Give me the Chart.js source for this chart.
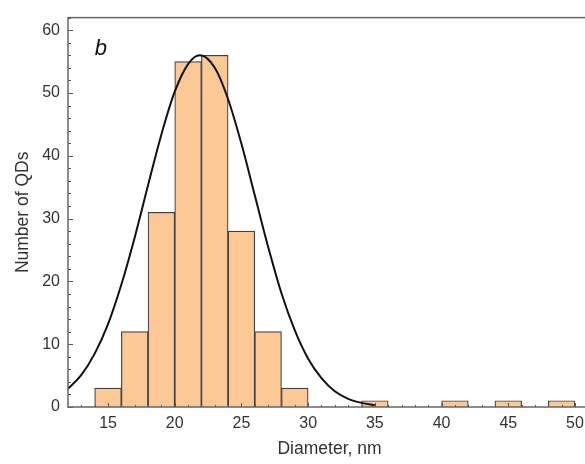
<!DOCTYPE html>
<html>
<head>
<meta charset="utf-8">
<script src="https://cdn.jsdelivr.net/npm/chart.js@4/dist/chart.umd.min.js"></script>
<style>
html,body{margin:0;padding:0;overflow:hidden;background:#fff;width:585px;height:464px;}
canvas{display:block;}
</style>
</head>
<body>
<canvas id="c" width="591" height="464"></canvas>
<script>
// Histogram bins (centers of 2 nm bins) and counts
const binCenters = [15, 17, 19, 21, 23, 25, 27, 29, 35, 41, 45, 49];
const binCounts  = [3, 12, 31, 55, 56, 28, 12, 3, 1, 1, 1, 1];
// Fitted curve
const curveX = [12, 13, 14, 15, 16, 17, 18, 19, 20, 21, 21.9, 23, 24, 25, 26, 27, 28, 29, 30, 31, 32, 33, 34, 35];
const curveY = [2.9, 5.1, 8.5, 13.2, 19.5, 27.0, 35.3, 43.4, 50.2, 54.6, 56.0, 54.0, 49.0, 41.9, 33.7, 25.5, 18.1, 12.2, 7.7, 4.6, 2.5, 1.3, 0.66, 0.3];
const xTicks = [15, 20, 25, 30, 35, 40, 45, 50];
const yTicks = [0, 10, 20, 30, 40, 50, 60];
const panelLabel = 'b';

const FONT = "'Liberation Sans', Arial, sans-serif";

const innerTicks = {
  id: 'innerTicks',
  afterDatasetsDraw(chart) {
    const {ctx, chartArea: a, scales: {x, y}} = chart;
    ctx.save();
    ctx.strokeStyle = '#555';
    ctx.lineWidth = 1;
    for (let v = 0; v <= 62; v += 2) {
      const py = Math.round(y.getPixelForValue(v)) + 0.5;
      const len = (v % 10 === 0) ? 5 : 3;
      ctx.beginPath(); ctx.moveTo(a.left, py); ctx.lineTo(a.left + len, py); ctx.stroke();
    }
    for (let v = 13; v <= 51; v += 1) {
      const px = Math.round(x.getPixelForValue(v)) + 0.5;
      const len = (v % 5 === 0) ? 4 : 2;
      ctx.beginPath(); ctx.moveTo(px, a.bottom); ctx.lineTo(px, a.bottom - len); ctx.stroke();
    }
    ctx.strokeStyle = '#666';
    ctx.lineWidth = 1.5;
    ctx.strokeRect(a.left, a.top, a.right - a.left, a.bottom - a.top);
    ctx.fillStyle = '#111';
    ctx.font = "italic 22px " + FONT;
    ctx.textBaseline = 'alphabetic';
    ctx.fillText(panelLabel, x.getPixelForValue(14.0), y.getPixelForValue(56.0));
    ctx.restore();
  }
};

new Chart(document.getElementById('c'), {
  type: 'bar',
  data: {
    datasets: [
      {
        type: 'line',
        data: curveX.map((v, i) => ({x: v, y: curveY[i]})),
        borderColor: '#111',
        borderWidth: 2,
        pointRadius: 0,
        cubicInterpolationMode: 'monotone',
        fill: false,
        order: 0
      },
      {
        type: 'bar',
        data: binCenters.map((v, i) => ({x: v, y: binCounts[i]})),
        backgroundColor: 'rgb(251,200,150)',
        borderColor: '#404040',
        borderWidth: 1.2,
        barPercentage: 1,
        categoryPercentage: 1,
        order: 1
      }
    ]
  },
  options: {
    responsive: false,
    animation: false,
    devicePixelRatio: 1,
    layout: {padding: {top: 17, right: 0, left: 0, bottom: 0}},
    plugins: {legend: {display: false}, tooltip: {enabled: false}},
    scales: {
      x: {
        type: 'linear',
        min: 12, max: 51.2,
        offset: false,
        afterBuildTicks: s => { s.ticks = xTicks.map(v => ({value: v})); },
        afterFit: s => { s.height = 57; },
        grid: {display: false, drawTicks: false},
        border: {display: false},
        ticks: {color: '#333', font: {family: FONT, size: 16}, padding: 7, maxRotation: 0, autoSkip: false},
        title: {display: true, text: 'Diameter, nm', color: '#333', font: {family: FONT, size: 17.5}, padding: {top: 0, bottom: 4}}
      },
      y: {
        type: 'linear',
        min: 0, max: 62,
        afterBuildTicks: s => { s.ticks = yTicks.map(v => ({value: v})); },
        afterFit: s => { s.width = 68; },
        grid: {display: false, drawTicks: false},
        border: {display: false},
        ticks: {color: '#333', font: {family: FONT, size: 16}, padding: 8},
        title: {display: true, text: 'Number of QDs', color: '#333', font: {family: FONT, size: 17.5}, padding: {top: 13, bottom: 0}}
      }
    }
  },
  plugins: [innerTicks]
});
</script>
</body>
</html>
